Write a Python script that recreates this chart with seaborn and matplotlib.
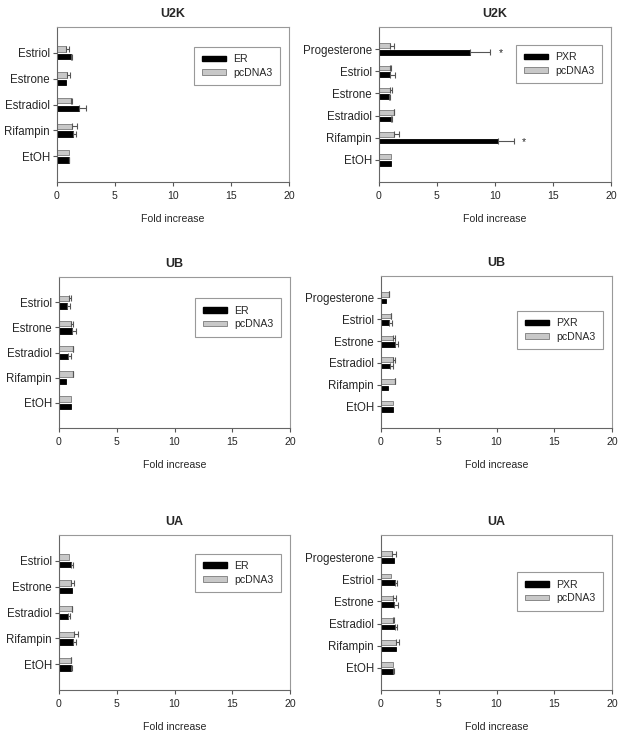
import matplotlib
matplotlib.use("Agg")
import matplotlib.pyplot as plt
from matplotlib.patches import Patch
import seaborn as sns
import pandas as pd

# ---------------- data ----------------
cats_er = ["Estriol", "Estrone", "Estradiol", "Rifampin", "EtOH"]
cats_pxr = ["Progesterone", "Estriol", "Estrone", "Estradiol", "Rifampin", "EtOH"]

# U2K cells
u2k_er_er = [1.2, 0.8, 1.9, 1.4, 1.0]
u2k_er_er_err = [0.05, 0.0, 0.6, 0.2, 0.05]
u2k_er_pc = [0.8, 0.9, 1.2, 1.3, 1.0]
u2k_er_pc_err = [0.2, 0.2, 0.05, 0.4, 0.0]

u2k_pxr_pxr = [7.85, 0.95, 0.9, 1.05, 10.3, 1.0]
u2k_pxr_pxr_err = [1.75, 0.4, 0.05, 0.05, 1.3, 0.0]
u2k_pxr_pc = [0.95, 0.95, 0.95, 1.25, 1.3, 1.0]
u2k_pxr_pc_err = [0.3, 0.1, 0.2, 0.05, 0.4, 0.0]
u2k_pxr_stars = ["Progesterone", "Rifampin"]

# UB cells
ub_er_er = [0.7, 1.15, 0.8, 0.6, 1.05]
ub_er_er_err = [0.25, 0.3, 0.25, 0.0, 0.0]
ub_er_pc = [0.9, 1.05, 1.2, 1.2, 1.05]
ub_er_pc_err = [0.1, 0.15, 0.05, 0.05, 0.0]

ub_pxr_pxr = [0.45, 0.7, 1.2, 0.8, 0.6, 1.0]
ub_pxr_pxr_err = [0.0, 0.25, 0.25, 0.2, 0.0, 0.0]
ub_pxr_pc = [0.65, 0.85, 1.0, 1.05, 1.2, 1.0]
ub_pxr_pc_err = [0.05, 0.05, 0.2, 0.2, 0.05, 0.0]

# UA cells
ua_er_er = [1.05, 1.1, 0.8, 1.2, 1.0]
ua_er_er_err = [0.15, 0.0, 0.15, 0.25, 0.1]
ua_er_pc = [0.85, 1.05, 1.1, 1.3, 1.0]
ua_er_pc_err = [0.0, 0.25, 0.05, 0.35, 0.05]

ua_pxr_pxr = [1.1, 1.25, 1.15, 1.25, 1.3, 1.05]
ua_pxr_pxr_err = [0.0, 0.15, 0.35, 0.1, 0.0, 0.1]
ua_pxr_pc = [0.95, 0.85, 1.05, 1.05, 1.3, 1.05]
ua_pxr_pc_err = [0.35, 0.0, 0.25, 0.05, 0.3, 0.0]

x_ticks = [0, 5, 10, 15, 20]

# ---------------- style ----------------
sns.set_style("white")
plt.rcParams["font.family"] = ["Liberation Sans", "DejaVu Sans"]

GRAY = "#c8c8c8"
GRAY_EDGE = "#7a7a7a"
ERR_COL = "#555555"

W, H = 622, 733
fig = plt.figure(figsize=(W / 100, H / 100), dpi=100)


def rect(x0, x1, ytop, ybot):
    return [x0 / W, (H - ybot) / H, (x1 - x0) / W, (ybot - ytop) / H]


def draw(ax, cats, rec, rec_vals, rec_err, pc_vals, pc_err, title, anchor, stars=()):
    n = len(cats)
    df = pd.DataFrame({
        "Treatment": cats + cats,
        "Series": ["pcDNA3"] * n + [rec] * n,
        "Fold": pc_vals + rec_vals,
    })
    sns.barplot(data=df, x="Fold", y="Treatment", hue="Series", order=cats,
                hue_order=["pcDNA3", rec], palette={"pcDNA3": GRAY, rec: "black"},
                orient="h", width=0.6, gap=0.3, errorbar=None, legend=False,
                saturation=1, ax=ax)
    for container, errs, edge in zip(ax.containers, [pc_err, rec_err], [GRAY_EDGE, "black"]):
        for bar, e, cat in zip(container, errs, cats):
            bar.set_edgecolor(edge)
            bar.set_linewidth(0.6)
            yc = bar.get_y() + bar.get_height() / 2
            xv = bar.get_width()
            if e > 0:
                ax.errorbar(xv, yc, xerr=[[0], [e]], fmt="none", ecolor=ERR_COL,
                            elinewidth=0.8, capsize=2.5, capthick=0.8, zorder=3)
            if edge == "black" and cat in stars:
                ax.text(xv + e + 0.9, yc + 0.05, "*", fontsize=7.5, ha="center", va="center")
    ax.set_xlim(0, 20)
    ax.set_xticks(x_ticks)
    ax.set_ylim(n, -1)
    ax.set_ylabel("")
    ax.set_xlabel("Fold increase", fontsize=7.6, labelpad=9)
    ax.set_title(title, fontsize=9, fontweight="bold", pad=7)
    ax.tick_params(axis="both", bottom=True, left=True, length=3, width=0.8,
                   color="#555555", direction="out")
    ax.tick_params(axis="x", labelsize=7.6, pad=3.5)
    ax.tick_params(axis="y", labelsize=8.3, pad=2)
    for side, sp in ax.spines.items():
        sp.set_visible(True)
        sp.set_linewidth(0.8)
        sp.set_color("#666666" if side in ("left", "bottom") else "#999999")
    handles = [Patch(facecolor="black", edgecolor="black", label=rec),
               Patch(facecolor=GRAY, edgecolor=GRAY_EDGE, linewidth=0.6, label="pcDNA3")]
    leg = ax.legend(handles=handles, loc="upper right", bbox_to_anchor=anchor,
                    fontsize=7.6, frameon=True, fancybox=False, framealpha=1,
                    handlelength=2.3, handleheight=0.45, handletextpad=0.7,
                    labelspacing=0.35, borderpad=0.7, borderaxespad=0)
    leg.get_frame().set_edgecolor("#999999")
    leg.get_frame().set_linewidth(0.8)


ax1 = fig.add_axes(rect(57, 289, 27, 182))
draw(ax1, cats_er, "ER", u2k_er_er, u2k_er_er_err, u2k_er_pc, u2k_er_pc_err, "U2K", (0.961, 0.871))

ax2 = fig.add_axes(rect(379, 611, 27, 182))
draw(ax2, cats_pxr, "PXR", u2k_pxr_pxr, u2k_pxr_pxr_err, u2k_pxr_pc, u2k_pxr_pc_err, "U2K",
     (0.961, 0.884), stars=u2k_pxr_stars)

ax3 = fig.add_axes(rect(59, 290, 277, 428))
draw(ax3, cats_er, "ER", ub_er_er, ub_er_er_err, ub_er_pc, ub_er_pc_err, "UB", (0.961, 0.86))

ax4 = fig.add_axes(rect(381, 612, 276, 428))
draw(ax4, cats_pxr, "PXR", ub_pxr_pxr, ub_pxr_pxr_err, ub_pxr_pc, ub_pxr_pc_err, "UB", (0.961, 0.77))

ax5 = fig.add_axes(rect(59, 290, 535, 690))
draw(ax5, cats_er, "ER", ua_er_er, ua_er_er_err, ua_er_pc, ua_er_pc_err, "UA", (0.961, 0.88))

ax6 = fig.add_axes(rect(381, 612, 535, 690))
draw(ax6, cats_pxr, "PXR", ua_pxr_pxr, ua_pxr_pxr_err, ua_pxr_pc, ua_pxr_pc_err, "UA", (0.961, 0.76))

fig.savefig("out.png", dpi=100)
